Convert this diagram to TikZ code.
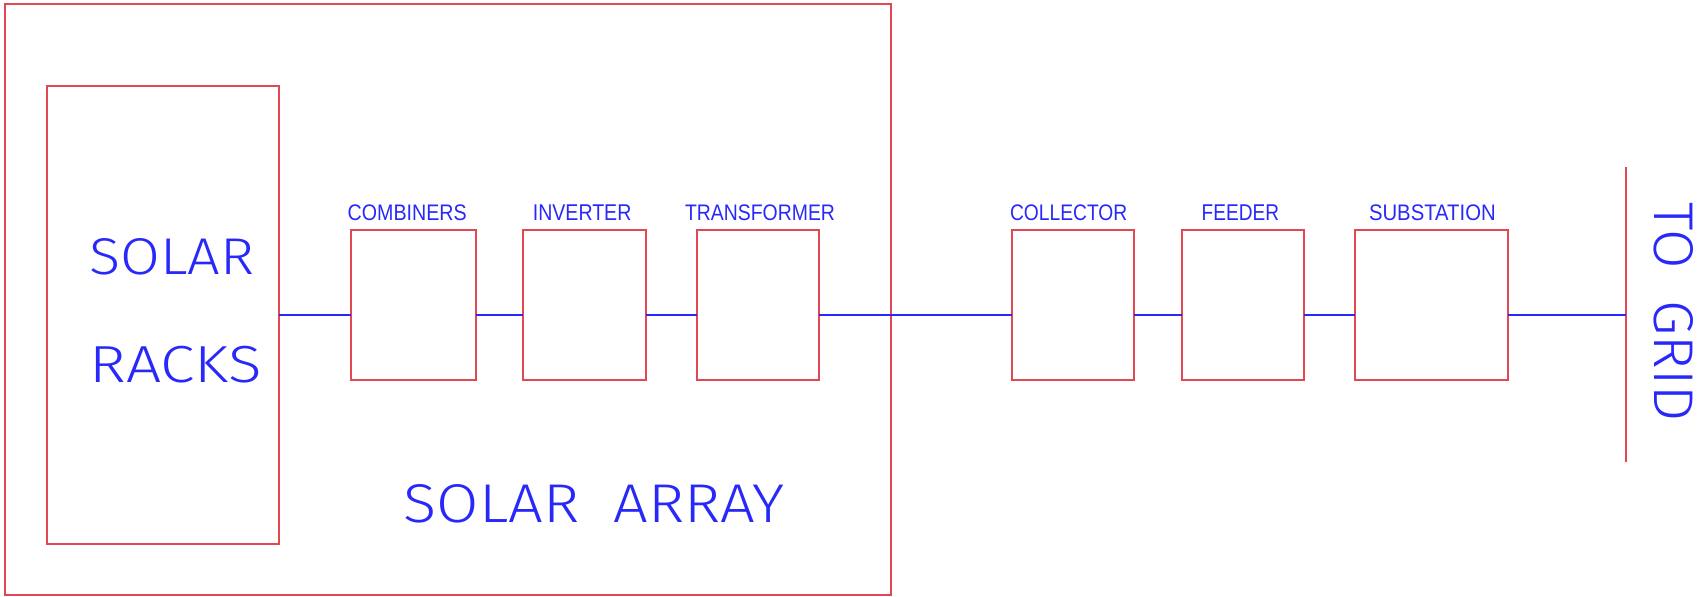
\documentclass[tikz,border=0pt]{standalone}
\usepackage{fontspec}
\setmainfont{Liberation Sans}
\newfontfamily\thinfont{Fira Sans Light}
\usepackage{graphicx}
\definecolor{wirered}{RGB}{226,72,82}
\definecolor{wireblue}{RGB}{40,40,250}
\tikzset{
  frame/.style={draw=wirered, line width=1pt, inner sep=0pt, outer sep=0pt},
  unit/.style={frame, minimum height=75pt},
  bus/.style={draw=wireblue, line width=1pt},
  lbl/.style={text=wireblue, inner sep=0pt, outer sep=0pt, anchor=base west},
  biglbl/.style={lbl, font=\thinfont},
}
% text stretched to a given width and cap height
\newcommand{\fitlabel}[3]{\resizebox{#1}{#2}{#3}}

\begin{document}
\begin{tikzpicture}[x=0.5pt, y=-0.5pt]
\useasboundingbox (0,0) rectangle (1699,597);

% enclosures
\node[frame, minimum width=443pt, minimum height=295.5pt] (array) at (447.5,299.5) {};
\node[frame, minimum width=116.3pt, minimum height=229pt] (racks) at (163,315) {};

% equipment blocks
\node[unit, minimum width=62.35pt] (comb)  at (413.35,305) {};
\node[unit, minimum width=61.2pt]  (inv)   at (584.5,305) {};
\node[unit, minimum width=61pt]    (trans) at (758.3,305) {};
\node[unit, minimum width=61pt]    (coll)  at (1072.7,305) {};
\node[unit, minimum width=61pt]    (feed)  at (1242.7,305) {};
\node[unit, minimum width=76.2pt]  (sub)   at (1431.5,305) {};

% grid bus
\coordinate (gridtop) at (1625.7,167.3);
\coordinate (gridbot) at (1625.7,462.3);
\draw[frame] (gridtop) -- (gridbot);

% power path
\draw[bus] (racks.east) -- (racks.east -| comb.west);
\draw[bus] (comb.east |- racks.east) -- (racks.east -| inv.west);
\draw[bus] (inv.east |- racks.east) -- (racks.east -| trans.west);
\draw[bus] (trans.east |- racks.east) -- (racks.east -| coll.west);
\draw[bus] (coll.east |- racks.east) -- (racks.east -| feed.west);
\draw[bus] (feed.east |- racks.east) -- (racks.east -| sub.west);
\draw[bus] (sub.east |- racks.east) -- (racks.east -| gridtop);

% block titles
\node[lbl] (tcomb)  at (347.7,220.7)  {\fitlabel{59.5pt}{7.85pt}{COMBINERS}};
\node[lbl] (tinv)   at (532.9,220.7)  {\fitlabel{49.25pt}{7.85pt}{INVERTER}};
\node[lbl] (ttrans) at (685,220.7)    {\fitlabel{75pt}{7.85pt}{TRANSFORMER}};
\node[lbl] (tcoll)  at (1010,220.7)   {\fitlabel{58.65pt}{7.85pt}{COLLECTOR}};
\node[lbl] (tfeed)  at (1201.7,220.7) {\fitlabel{38.65pt}{7.85pt}{FEEDER}};
\node[lbl] (tsub)   at (1369,220.7)   {\fitlabel{63.35pt}{7.85pt}{SUBSTATION}};

% large captions
\node[biglbl] (tsolar) at (89.3,275)   {\fitlabel{82.5pt}{18pt}{SOLAR}};
\node[biglbl] (tracks) at (89.3,382.3) {\fitlabel{86.2pt}{18.15pt}{RACKS}};
\node[biglbl] (tarray) at (403.6,522.3) {\fitlabel{190.5pt}{19pt}{SOLAR\ \ ARRAY}};
\node[biglbl, rotate=-90] (tgrid) at (1654.3,202.7) {\fitlabel{109.5pt}{19.5pt}{TO\ \ GRID}};
\end{tikzpicture}
\end{document}
